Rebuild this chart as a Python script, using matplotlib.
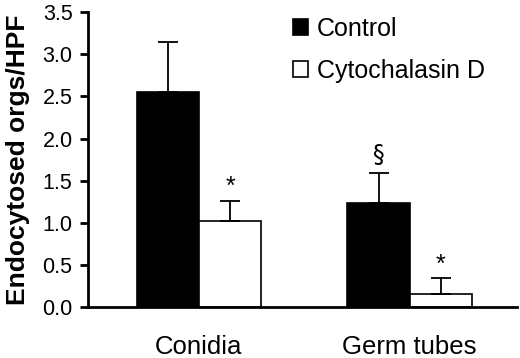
import matplotlib
matplotlib.use("Agg")
import matplotlib.pyplot as plt
import numpy as np

plt.rcParams['font.family'] = ['Liberation Sans', 'DejaVu Sans']

categories = ["Conidia", "Germ tubes"]
control = [2.55, 1.24]
control_err = [0.60, 0.35]
cyto = [1.02, 0.16]
cyto_err = [0.24, 0.18]
series_names = ["Control", "Cytochalasin D"]
marks_control = ["", "§"]
marks_cyto = ["*", "*"]
yticks = [0.0, 0.5, 1.0, 1.5, 2.0, 2.5, 3.0, 3.5]

fig = plt.figure(figsize=(5.2, 3.58), dpi=100)
ax = fig.add_axes([0.169, 0.1425, 0.825, 0.8235])

x = np.arange(len(categories))
w = 0.295
ax.bar(x - w/2, control, w, color='black', edgecolor='black', linewidth=1.2, label=series_names[0])
ax.bar(x + w/2, cyto, w, color='white', edgecolor='black', linewidth=1.2, label=series_names[1])
ax.errorbar(x - w/2, control, yerr=[np.zeros(2), control_err], fmt='none', ecolor='black',
            elinewidth=1.3, capsize=7, capthick=1.3)
ax.errorbar(x + w/2, cyto, yerr=[np.zeros(2), cyto_err], fmt='none', ecolor='black',
            elinewidth=1.3, capsize=7, capthick=1.3)

for i in range(len(categories)):
    if marks_control[i]:
        ax.text(x[i] - w/2, control[i] + control_err[i] + 0.07, marks_control[i],
                ha='center', va='bottom', fontsize=17, family=['DejaVu Sans'])
    if marks_cyto[i]:
        ax.text(x[i] + w/2, cyto[i] + cyto_err[i] + 0.02, marks_cyto[i],
                ha='center', va='bottom', fontsize=18)

ax.set_xlim(-0.527, 1.509)
ax.set_ylim(0, 3.5)
ax.set_yticks(yticks)
ax.set_yticklabels([f"{v:.1f}" for v in yticks], fontsize=15.5)
ax.set_xticks(x)
ax.set_xticklabels(categories, fontsize=18.5)
ax.tick_params(axis='x', length=0, pad=20)
ax.tick_params(axis='y', length=6, width=2, direction='out', pad=5)
ax.spines['top'].set_visible(False)
ax.spines['right'].set_visible(False)
ax.spines['left'].set_linewidth(2)
ax.spines['bottom'].set_linewidth(2)
ax.set_ylabel("Endocytosed orgs/HPF", fontsize=19, fontweight='bold', labelpad=9)

leg = fig.legend(loc='upper left', bbox_to_anchor=(0.545, 0.98), frameon=False, fontsize=18,
                 handlelength=0.6, handleheight=0.6, handletextpad=0.35, labelspacing=0.7,
                 borderaxespad=0)

fig.savefig("out.png", dpi=100)
